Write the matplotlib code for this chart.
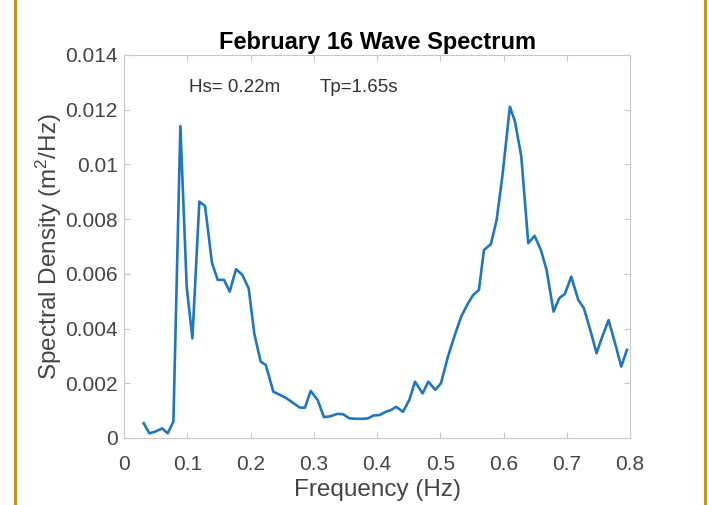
import matplotlib.pyplot as plt
from matplotlib.lines import Line2D

plt.rcParams['font.family'] = ['Liberation Sans', 'DejaVu Sans']

# spectrum
freq = [0.031, 0.040, 0.049, 0.060, 0.069, 0.078, 0.089, 0.099, 0.108, 0.119,
        0.128, 0.139, 0.148, 0.158, 0.167, 0.177, 0.187, 0.197, 0.206, 0.216,
        0.224, 0.236, 0.247, 0.257, 0.268, 0.278, 0.286, 0.295, 0.306, 0.316,
        0.327, 0.337, 0.346, 0.356, 0.367, 0.377, 0.386, 0.394, 0.404, 0.414,
        0.422, 0.430, 0.441, 0.451, 0.460, 0.472, 0.481, 0.492, 0.501, 0.512,
        0.523, 0.533, 0.544, 0.552, 0.561, 0.569, 0.580, 0.589, 0.598, 0.610,
        0.618, 0.628, 0.639, 0.649, 0.659, 0.668, 0.679, 0.688, 0.697, 0.707,
        0.718, 0.727, 0.737, 0.747, 0.756, 0.766, 0.777, 0.786, 0.795]
density = [0.00054, 0.00017, 0.00023, 0.00035, 0.00017, 0.00060, 0.01140, 0.00553, 0.00364, 0.00864,
           0.00848, 0.00640, 0.00578, 0.00578, 0.00535, 0.00617, 0.00596, 0.00547, 0.00380, 0.00279,
           0.00267, 0.00169, 0.00157, 0.00145, 0.00127, 0.00111, 0.00111, 0.00172, 0.00139, 0.00076,
           0.00080, 0.00088, 0.00087, 0.00072, 0.00070, 0.00070, 0.00072, 0.00082, 0.00084, 0.00096,
           0.00102, 0.00114, 0.00096, 0.00139, 0.00206, 0.00163, 0.00206, 0.00176, 0.00200, 0.00297,
           0.00377, 0.00444, 0.00493, 0.00523, 0.00541, 0.00687, 0.00709, 0.00797, 0.00955, 0.01211,
           0.01157, 0.01029, 0.00712, 0.00739, 0.00687, 0.00614, 0.00462, 0.00511, 0.00527, 0.00590,
           0.00505, 0.00474, 0.00395, 0.00310, 0.00370, 0.00431, 0.00340, 0.00261, 0.00322]

xticks = [0, 0.1, 0.2, 0.3, 0.4, 0.5, 0.6, 0.7, 0.8]
xlabels = ['0', '0.1', '0.2', '0.3', '0.4', '0.5', '0.6', '0.7', '0.8']
yticks = [0, 0.002, 0.004, 0.006, 0.008, 0.01, 0.012, 0.014]
ylabels = ['0', '0.002', '0.004', '0.006', '0.008', '0.01', '0.012', '0.014']

fig = plt.figure(figsize=(7.09, 5.05), dpi=100)
ax = fig.add_axes([0.175, 0.1327, 0.7137, 0.7584])

ax.plot(freq, density, c='#1f77c0', lw=1.9)

ax.set_xlim(0, 0.8)
ax.set_ylim(0, 0.014)
ax.set_xticks(xticks)
ax.set_xticklabels(xlabels)
ax.set_yticks(yticks)
ax.set_yticklabels(ylabels)

for s in ax.spines.values():
    s.set_color('#c8c8c8')
    s.set_linewidth(0.8)
ax.tick_params(direction='in', length=4, width=0.8, color='#c8c8c8',
               labelcolor='#444444', labelsize=15, top=True, right=True)
ax.tick_params(axis='x', pad=12)
ax.tick_params(axis='y', pad=4.5)

ax.set_title("February 16 Wave Spectrum", fontsize=17, fontweight='bold', pad=4)
ax.set_xlabel("Frequency (Hz)", fontsize=17.5, color='#444444', labelpad=4)
ax.set_ylabel("Spectral Density (m$\\mathregular{^2}$/Hz)", fontsize=17.5,
              color='#444444', labelpad=1)

ax.text(0.128, 0.904, "Hs= 0.22m", transform=ax.transAxes, fontsize=13.5,
        color='#333333', va='baseline')
ax.text(0.387, 0.904, "Tp=1.65s", transform=ax.transAxes, fontsize=13.5,
        color='#333333', va='baseline')

# gold frame edges
fig.add_artist(Line2D([14.5 / 709, 14.5 / 709], [0, 1], color='#c9961a', lw=2.2))
fig.add_artist(Line2D([705 / 709, 705 / 709], [0, 1], color='#c9961a', lw=2.2))

fig.savefig('out.png', dpi=100)
